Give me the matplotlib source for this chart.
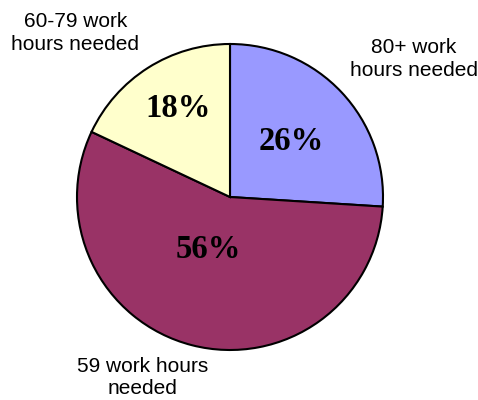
import matplotlib.pyplot as plt

labels = ['80+ work\nhours needed', '59 work hours\nneeded', '60-79 work\nhours needed']
shares = [26, 56, 18]
colors = ['#9999FF', '#993366', '#FFFFCC']

# label positions in data units (radius = 1)
pct_pos = [(0.40, 0.36), (-0.14, -0.34), (-0.34, 0.58)]
lab_pos = [(1.20, 0.90), (-0.57, -1.18), (-1.01, 1.07)]

fig = plt.figure(figsize=(4.78, 4.0), dpi=100)
ax = fig.add_axes([0, 0, 1, 1])
wedges, texts, autotexts = ax.pie(shares, labels=labels, colors=colors,
                                  startangle=90, counterclock=False,
                                  autopct='%d%%',
                                  wedgeprops={'edgecolor': 'black', 'linewidth': 1.5})
for t, p in zip(autotexts, pct_pos):
    t.set_position(p)
    t.set_fontfamily('Liberation Serif')
    t.set_fontweight('bold')
    t.set_fontsize(23.5)
    t.set_ha('center')
    t.set_va('center')
for t, p in zip(texts, lab_pos):
    t.set_position(p)
    t.set_fontfamily('Liberation Sans')
    t.set_fontsize(15)
    t.set_ha('center')
    t.set_va('center')
    t.set_linespacing(1.25)

ax.set_xlim(-230 / 153, 248 / 153)
ax.set_ylim(-203 / 153, 197 / 153)
ax.set_aspect('equal')
ax.axis('off')
fig.savefig('out.png', dpi=100)
